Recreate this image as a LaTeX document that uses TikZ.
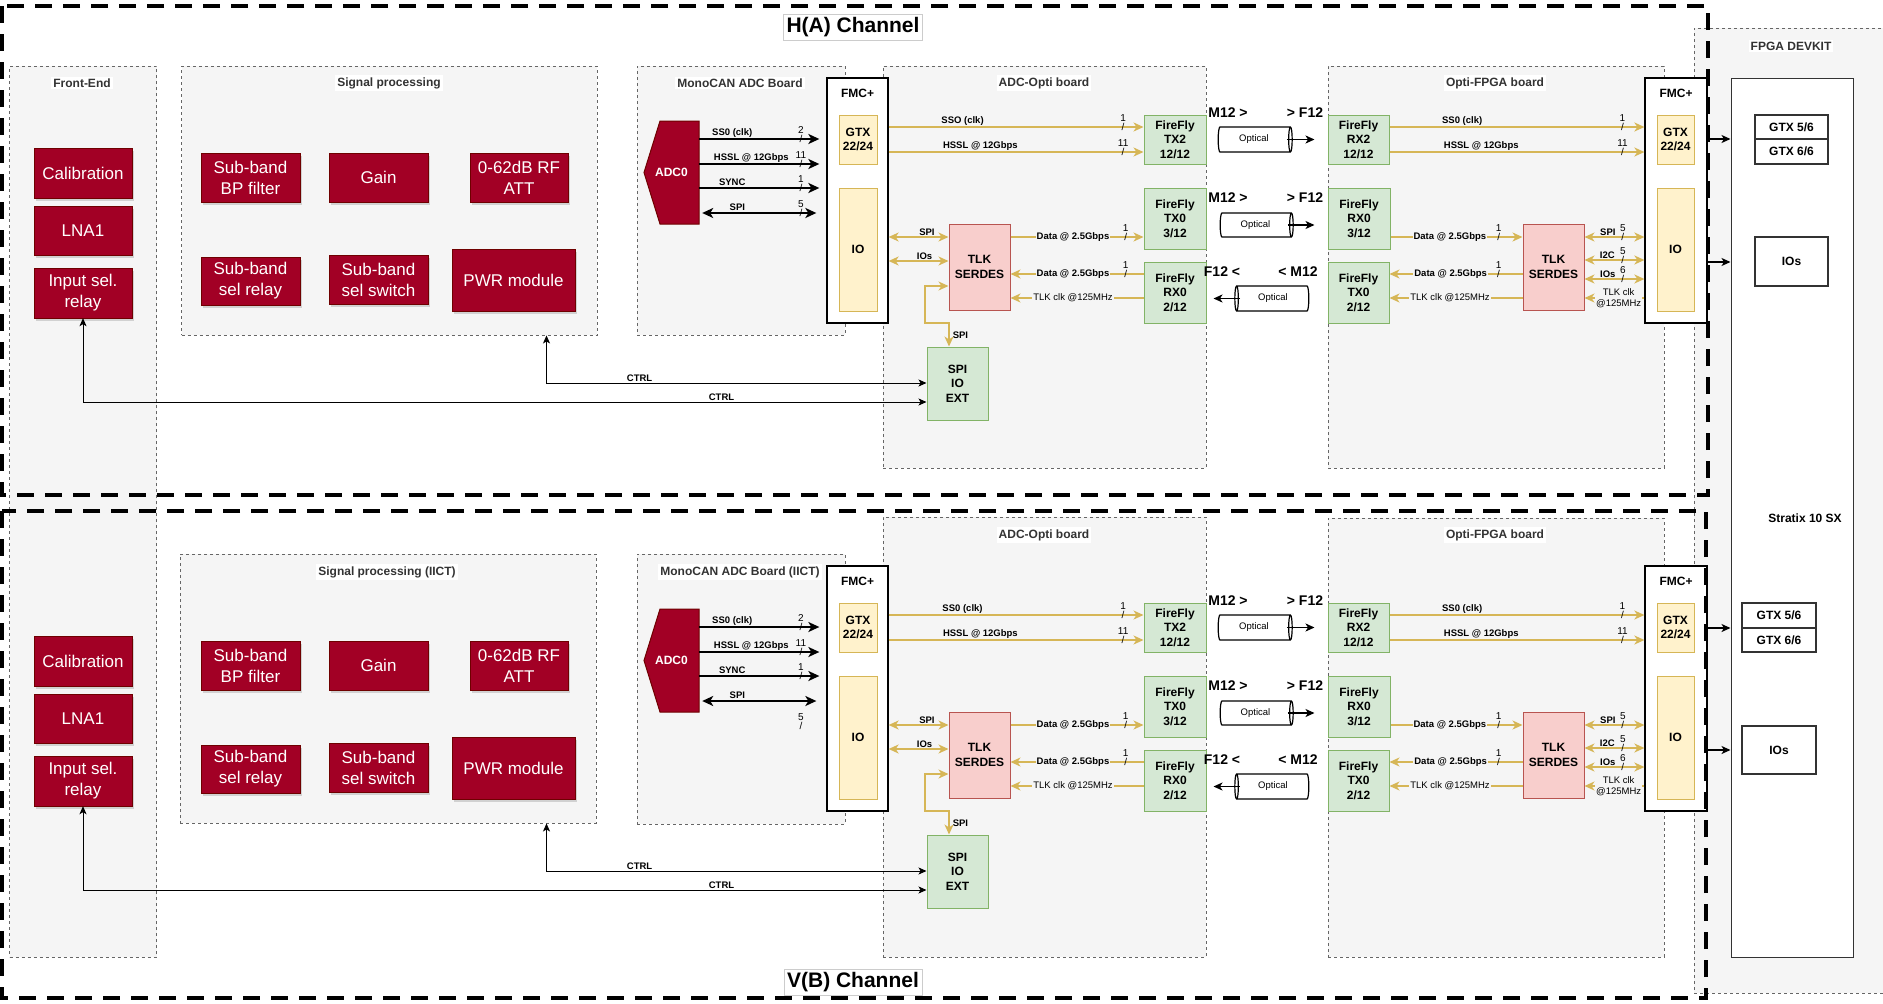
\documentclass[tikz,border=0pt]{standalone}
\usepackage{fontspec}
\setmainfont{Liberation Sans}
\usepackage{tikz}
\usepackage{xcolor}
\usetikzlibrary{arrows.meta, shapes.geometric, shadows}
\definecolor{boardred}{rgb}{0.635, 0.0, 0.145}
\definecolor{boardredline}{rgb}{0.435, 0.0, 0.0}
\definecolor{ffgreen}{rgb}{0.835, 0.910, 0.831}
\definecolor{ffgreenline}{rgb}{0.510, 0.702, 0.4}
\definecolor{tlkpink}{rgb}{0.973, 0.808, 0.8}
\definecolor{tlkpinkline}{rgb}{0.722, 0.329, 0.314}
\definecolor{gtxyellow}{rgb}{1.0, 0.949, 0.8}
\definecolor{gold}{rgb}{0.839, 0.714, 0.337}
\definecolor{boardgray}{rgb}{0.961, 0.961, 0.961}
\definecolor{boardline}{rgb}{0.4, 0.4, 0.4}
\definecolor{titlegray}{rgb}{0.2, 0.2, 0.2}

\tikzset{
  box/.style 2 args={minimum width=#1, minimum height=#2, inner sep=1pt},
  board/.style={draw=boardline, fill=boardgray, line width=0.9pt, dash pattern=on 3pt off 3pt},
  boardtitle/.style={fill=white, text=titlegray, inner sep=2pt, font=\fontsize{12}{14}\selectfont\bfseries},
  chframe/.style={draw=black, line width=4.5pt, dash pattern=on 17pt off 11pt},
  chtitle/.style={draw=black!20, fill=white, inner sep=3pt, font=\fontsize{21}{24}\selectfont\bfseries},
  redbox/.style={draw=boardredline, fill=boardred, text=white, align=center, font=\fontsize{17}{21}\selectfont, drop shadow={opacity=0.3, shadow xshift=2pt, shadow yshift=-2.5pt}},
  adcshape/.style={draw=boardredline, fill=boardred, line width=1pt},
  adclbl/.style={text=white, font=\fontsize{12}{14}\selectfont\bfseries},
  fmcbox/.style={draw=black, fill=white, line width=1.3pt},
  gtxbox/.style={draw=gold, fill=gtxyellow, line width=1pt, align=center, font=\fontsize{12}{14.5}\selectfont\bfseries},
  ffbox/.style={draw=ffgreenline, fill=ffgreen, line width=1pt, align=center, font=\fontsize{12}{14.5}\selectfont\bfseries},
  tlkbox/.style={draw=tlkpinkline, fill=tlkpink, line width=1pt, align=center, font=\fontsize{12}{14.5}\selectfont\bfseries},
  devbox/.style={draw=titlegray, fill=white, line width=1.3pt, font=\fontsize{12}{14}\selectfont\bfseries},
  optic/.style={cylinder, aspect=0.4, draw=black, fill=white, line width=1.2pt, inner sep=0pt, font=\fontsize{9.5}{11}\selectfont},
  boldlbl/.style={font=\fontsize{12}{14}\selectfont\bfseries},
  mlbl/.style={font=\fontsize{14}{16}\selectfont\bfseries, inner sep=0pt},
  lbl/.style={font=\fontsize{9.5}{11}\selectfont\bfseries, inner sep=1pt},
  lblbg/.style={lbl, fill=boardgray},
  clkbg/.style={font=\fontsize{9.5}{11}\selectfont, inner sep=1pt, fill=boardgray},
  tick/.style={font=\fontsize{10}{10}\selectfont, inner sep=0pt, label distance=5pt, label={[font=\fontsize{10}{10}\selectfont, inner sep=0pt]above:#1}},
  barr/.style={draw=black, line width=2pt, >={Stealth[length=11pt, width=10pt, inset=3pt]}},
  garr/.style={draw=gold, line width=1.5pt, >={Stealth[length=10pt, width=9pt, inset=3pt]}},
  carr/.style={draw=black, line width=1pt, >={Stealth[length=8pt, width=7pt, inset=2pt]}},
  sarr/.style={draw=black, line width=1.5pt, >={Stealth[length=9pt, width=8pt, inset=2.5pt]}},
}

\begin{document}
\begin{tikzpicture}[x=1pt, y=-1pt]
\useasboundingbox (0,0) rectangle (1883,1004);
\clip (0,0) rectangle (1883,1004);

% FPGA devkit
\node[board, box={196}{965}] (devkit) at (1792,510.5) {};
\node[boardtitle] (devkitt) at (1791,46) {FPGA DEVKIT};
\node[devbox, line width=1pt, box={122}{879}] (stratix) at (1792,517.5) {};
\node[boldlbl] (stratixt) at (1805,518) {Stratix 10 SX};
\node[devbox, box={73}{24}] (gtx56A) at (1791.5,127) {GTX 5/6};
\node[devbox, box={73}{25}] (gtx66A) at (1791.5,151.5) {GTX 6/6};
\node[devbox, box={73}{49}] (iosA) at (1791.5,261.5) {IOs};
\node[devbox, box={74}{25}] (gtx56B) at (1779,615.5) {GTX 5/6};
\node[devbox, box={74}{24}] (gtx66B) at (1779,640) {GTX 6/6};
\node[devbox, box={74}{48}] (iosB) at (1779,750) {IOs};

% boards
\node[board, box={147}{891}] (frontend) at (83,511.5) {};
\node[boardtitle] (frontendt) at (82,83) {Front-End};
\node[board, box={415.5}{269}] (sigA) at (389.25,200.5) {};
\node[boardtitle] (sigAt) at (389,83) {Signal processing};
\node[board, box={416}{269}] (sigB) at (388,688.5) {};
\node[boardtitle] (sigBt) at (387,572) {Signal processing (IICT)};
\node[board, box={208}{269}] (adcbA) at (741,200.5) {};
\node[boardtitle] (adcbAt) at (740,83) {MonoCAN ADC Board};
\node[board, box={208}{270}] (adcbB) at (741,689) {};
\node[boardtitle] (adcbBt) at (740,572) {MonoCAN ADC Board (IICT)};
\node[board, box={323}{402}] (optiA) at (1044.5,267) {};
\node[boardtitle] (optiAt) at (1044,83) {ADC-Opti board};
\node[board, box={323}{440}] (optiB) at (1044.5,737) {};
\node[boardtitle] (optiBt) at (1044,535) {ADC-Opti board};
\node[board, box={336}{402}] (ofpgaA) at (1496,267) {};
\node[boardtitle] (ofpgaAt) at (1495,83) {Opti-FPGA board};
\node[board, box={336}{439}] (ofpgaB) at (1496,737.5) {};
\node[boardtitle] (ofpgaBt) at (1495,535) {Opti-FPGA board};

% both channels
\foreach \ch/\dy/\clkname in {A/0/SSO, B/488/SS0}{
\begin{scope}[shift={(0,\dy)}]
% front-end and signal processing
\node[redbox, box={98}{50}] (cal\ch) at (83,173) {Calibration};
\node[redbox, box={98}{49}] (lna\ch) at (83,230.5) {LNA1};
\node[redbox, box={98}{50}] (insel\ch) at (83,293) {Input sel.\\relay};
\node[redbox, box={99}{49}] (bp\ch) at (250.5,177.5) {Sub-band\\BP filter};
\node[redbox, box={99}{49}] (gain\ch) at (378.5,177.5) {Gain};
\node[redbox, box={98}{49}] (att\ch) at (519,177.5) {0-62dB RF\\ATT};
\node[redbox, box={99}{48}] (srel\ch) at (250.5,281) {Sub-band\\sel relay};
\node[redbox, box={99}{49}] (ssw\ch) at (378.5,279.5) {Sub-band\\sel switch};
\node[redbox, box={123}{62}] (pwr\ch) at (513.5,280) {PWR module};
% ADC board
\draw[adcshape] (660,121) -- (699,121) -- (699,224) -- (660,224) -- (644,172.5) -- cycle;
\node[adclbl, box={55}{103}] (adc\ch) at (671.5,172.5) {ADC0};
\node[fmcbox, box={61}{245}] (fmc\ch) at (857.5,200.5) {};
\node[boldlbl] (fmct\ch) at (857.5,93) {FMC+};
\node[gtxbox, box={38}{49}] (gtx\ch) at (858,139.5) {GTX\\22/24};
\node[gtxbox, box={38}{123}] (io\ch) at (858,249.5) {IO};
% ADC-Opti board
\node[ffbox, box={62}{49}] (tx2\ch) at (1175,139.5) {FireFly\\TX2\\12/12};
\node[ffbox, box={62}{61}] (tx0\ch) at (1175,218.5) {FireFly\\TX0\\3/12};
\node[ffbox, box={62}{61}] (rx0\ch) at (1175,292.5) {FireFly\\RX0\\2/12};
\node[tlkbox, box={61}{86}] (tlk\ch) at (979.5,267) {TLK\\SERDES};
\node[ffbox, box={61}{73}] (spiext\ch) at (957.5,383.5) {SPI\\IO\\EXT};
% optical links
\node[optic, shape border rotate=0, minimum width=25, minimum height=74] (cyl\ch1) at (1254,139.5) {Optical};
\node[optic, shape border rotate=0, minimum width=24, minimum height=73] (cyl\ch2) at (1255.5,225) {Optical};
\node[optic, shape border rotate=180, minimum width=25, minimum height=74] (cyl\ch3) at (1273,298.5) {Optical};
\node[mlbl] (m\ch1) at (1228,113) {M12 >};
\node[mlbl] (f\ch1) at (1305,113) {> F12};
\node[mlbl] (m\ch2) at (1228,198) {M12 >};
\node[mlbl] (f\ch2) at (1305,198) {> F12};
\node[mlbl] (f\ch3) at (1222,272) {F12 <};
\node[mlbl] (m\ch3) at (1298,272) {< M12};
% Opti-FPGA board
\node[ffbox, box={61}{49}] (rx2\ch) at (1358.5,139.5) {FireFly\\RX2\\12/12};
\node[ffbox, box={62}{61}] (rx0b\ch) at (1359,218.5) {FireFly\\RX0\\3/12};
\node[ffbox, box={61}{61}] (tx0b\ch) at (1358.5,292.5) {FireFly\\TX0\\2/12};
\node[tlkbox, box={61}{86}] (tlkb\ch) at (1553.5,267) {TLK\\SERDES};
\node[fmcbox, box={62}{245}] (fmcb\ch) at (1676,200.5) {};
\node[boldlbl] (fmcbt\ch) at (1676,93) {FMC+};
\node[gtxbox, box={37}{49}] (gtxb\ch) at (1675.5,139.5) {GTX\\22/24};
\node[gtxbox, box={37}{123}] (iob\ch) at (1675.5,249.5) {IO};

% ADC0 to FMC+
\draw[barr, ->, shorten >=7pt] (adc\ch.east |- 0,139) -- (fmc\ch.west |- 0,139) node[lbl, above, pos=.26] {SS0 (clk)} node[tick=2, pos=.8] {/};
\draw[barr, ->, shorten >=7pt] (adc\ch.east |- 0,164) -- (fmc\ch.west |- 0,164) node[lbl, above, pos=.41] {HSSL @ 12Gbps} node[tick=11, pos=.8] {/};
\draw[barr, ->, shorten >=7pt] (adc\ch.east |- 0,188) -- (fmc\ch.west |- 0,188) node[lbl, above, pos=.26] {SYNC} node[tick=1, pos=.8] {/};
\ifnum\dy=0
\draw[barr, <->, shorten <=3pt, shorten >=10pt] (adc\ch.east |- 0,213) -- (fmc\ch.west |- 0,213) node[lbl, above, pos=.3] {SPI} node[tick=5, pos=.8] {/};
\else
\draw[barr, <->, shorten <=3pt, shorten >=10pt] (adc\ch.east |- 0,213) -- (fmc\ch.west |- 0,213) node[lbl, above, pos=.3] {SPI} node[tick=5, pos=.8, yshift=-25pt] {/};
\fi
% FMC+ to ADC-Opti board
\draw[garr, ->] (fmc\ch.east |- 0,127) -- (tx2\ch.west |- 0,127) node[lbl, above, pos=.29] {\clkname{} (clk)} node[tick=1, pos=.92] {/};
\draw[garr, ->] (fmc\ch.east |- 0,152) -- (tx2\ch.west |- 0,152) node[lbl, above, pos=.36] {HSSL @ 12Gbps} node[tick=11, pos=.92] {/};
\draw[garr, <->] (fmc\ch.east |- 0,237) -- (tlk\ch.west |- 0,237) node[lbl, above, pos=.64] {SPI};
\draw[garr, <->] (fmc\ch.east |- 0,261) -- (tlk\ch.west |- 0,261) node[lbl, above, pos=.6] {IOs};
\draw[garr, ->] (tlk\ch.east |- 0,237) -- (tx0\ch.west |- 0,237) node[lblbg, pos=.47] {Data @ 2.5Gbps} node[tick=1, pos=.866] {/};
\draw[garr, ->] (rx0\ch.west |- 0,274) -- (tlk\ch.east |- 0,274) node[lblbg, pos=.53] {Data @ 2.5Gbps} node[tick=1, pos=.134] {/};
\draw[garr, ->] (rx0\ch.west |- 0,298) -- (tlk\ch.east |- 0,298) node[clkbg, pos=.53] {TLK clk @125MHz};
\draw[garr, <->] (tlk\ch.west |- 0,286) -- (925,286) -- (925,323) -- (949,323) -- (spiext\ch.north -| 949,0) node[lbl, right, pos=.5, xshift=2pt] {SPI};
% control lines
\draw[carr, <->] (sig\ch.south -| 546.5,0) -- (546.5,383) -- (spiext\ch.west |- 0,383) node[lbl, above, pos=.245] {CTRL};
\draw[carr, <->] (insel\ch.south) -- (insel\ch.south |- 0,402) -- (spiext\ch.west |- 0,402) node[lbl, above, pos=.757] {CTRL};
% fibres
\draw[sarr, ->, shorten >=13pt] ([xshift=-6pt]cyl\ch1.east) -- (rx2\ch.west |- cyl\ch1.east);
\draw[sarr, ->, shorten >=13pt] ([xshift=-6pt]cyl\ch2.east) -- (rx0b\ch.west |- cyl\ch2.east);
\draw[sarr, ->, shorten >=7pt] ([xshift=6pt]cyl\ch3.west) -- (rx0\ch.east |- cyl\ch3.west);
% Opti-FPGA board
\draw[garr, ->] (rx2\ch.east |- 0,127) -- (fmcb\ch.west |- 0,127) node[lbl, above, pos=.285] {SS0 (clk)} node[tick=1, pos=.914] {/};
\draw[garr, ->] (rx2\ch.east |- 0,152) -- (fmcb\ch.west |- 0,152) node[lbl, above, pos=.36] {HSSL @ 12Gbps} node[tick=11, pos=.914] {/};
\draw[garr, ->] (rx0b\ch.east |- 0,237) -- (tlkb\ch.west |- 0,237) node[lblbg, pos=.45] {Data @ 2.5Gbps} node[tick=1, pos=.82] {/};
\draw[garr, ->] (tlkb\ch.west |- 0,274) -- (tx0b\ch.east |- 0,274) node[lblbg, pos=.54] {Data @ 2.5Gbps} node[tick=1, pos=.18] {/};
\draw[garr, ->] (tlkb\ch.west |- 0,298) -- (tx0b\ch.east |- 0,298) node[clkbg, pos=.545] {TLK clk @125MHz};
\draw[garr, <->] (tlkb\ch.east |- 0,237) -- (fmcb\ch.west |- 0,237) node[lbl, above, pos=.39] {SPI} node[tick=5, pos=.64] {/};
\draw[garr, <->] (tlkb\ch.east |- 0,260) -- (fmcb\ch.west |- 0,260) node[lbl, above, pos=.38] {I2C} node[tick=5, pos=.64] {/};
\draw[garr, <->] (tlkb\ch.east |- 0,279) -- (fmcb\ch.west |- 0,279) node[lbl, above, pos=.39] {IOs} node[tick=6, pos=.64] {/};
\draw[garr, ->] (fmcb\ch.west |- 0,298) -- (tlkb\ch.east |- 0,298) node[clkbg, align=center, pos=.43] {TLK clk\\@125MHz};
\end{scope}
}

% FMC+ to Stratix
\draw[sarr, ->] (fmcbA.east |- 0,139) -- (stratix.west |- 0,139);
\draw[sarr, ->] (fmcbA.east |- 0,262) -- (stratix.west |- 0,262);
\draw[sarr, ->] (fmcbB.east |- 0,628) -- (stratix.west |- 0,628);
\draw[sarr, ->] (fmcbB.east |- 0,750) -- (stratix.west |- 0,750);

% channel frames
\draw[chframe] (2,6) rectangle (1708,495);
\draw[chframe] (2,511) rectangle (1706,998);
\node[chtitle] (titleA) at (853,27) {H(A) Channel};
\node[chtitle] (titleB) at (853,982) {V(B) Channel};
\end{tikzpicture}
\end{document}
